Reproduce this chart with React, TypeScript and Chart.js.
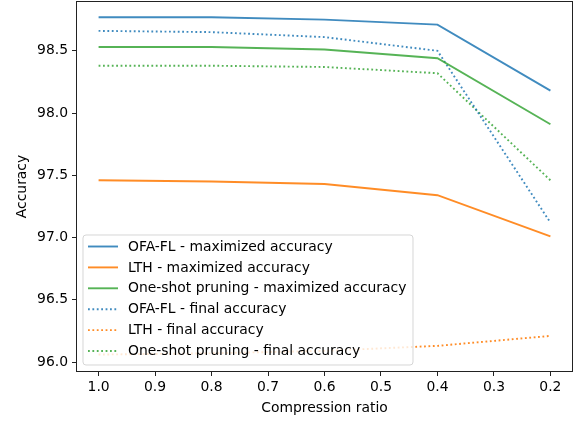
import React, { useEffect, useRef } from "react";
import { Chart, registerables } from "chart.js";

Chart.register(...registerables);

const ratios = [1.0, 0.8, 0.6, 0.4, 0.2];
const ofaMax = [98.77, 98.77, 98.75, 98.71, 98.18];
const lthMax = [97.46, 97.45, 97.43, 97.34, 97.01];
const oneMax = [98.53, 98.53, 98.51, 98.44, 97.91];
const ofaFinal = [98.66, 98.65, 98.61, 98.5, 97.12];
const lthFinal = [96.06, 96.07, 96.09, 96.13, 96.21];
const oneFinal = [98.38, 98.38, 98.37, 98.32, 97.46];

const xTicks = [1.0, 0.9, 0.8, 0.7, 0.6, 0.5, 0.4, 0.3, 0.2];
const yTicks = [96.0, 96.5, 97.0, 97.5, 98.0, 98.5];

const labels = [
  "OFA-FL - maximized accuracy",
  "LTH - maximized accuracy",
  "One-shot pruning - maximized accuracy",
  "OFA-FL - final accuracy",
  "LTH - final accuracy",
  "One-shot pruning - final accuracy",
];

const BLUE = "rgba(31,119,180,0.85)";
const ORANGE = "rgba(255,127,14,0.9)";
const GREEN = "rgba(44,160,44,0.8)";
const colors = [BLUE, ORANGE, GREEN, BLUE, ORANGE, GREEN];
const series = [ofaMax, lthMax, oneMax, ofaFinal, lthFinal, oneFinal];
const DOT = [1.8, 2.6];
const FONT = "DejaVu Sans";
const FS = 13.9;

const legendPlugin = {
  id: "mplLegend",
  afterDatasetsDraw(chart: any) {
    const { ctx, chartArea } = chart;
    ctx.save();
    ctx.strokeStyle = "#222";
    ctx.lineWidth = 1;
    ctx.strokeRect(
      Math.round(chartArea.left) + 0.5,
      Math.round(chartArea.top) + 0.5,
      Math.round(chartArea.right - chartArea.left) - 1,
      Math.round(chartArea.bottom - chartArea.top) - 1
    );
    const lx = chartArea.left + 7;
    const w = 330;
    const h = 130;
    const ly = chartArea.bottom - 7 - h;
    const r = 3;
    ctx.beginPath();
    ctx.moveTo(lx + r, ly);
    ctx.lineTo(lx + w - r, ly);
    ctx.arcTo(lx + w, ly, lx + w, ly + r, r);
    ctx.lineTo(lx + w, ly + h - r);
    ctx.arcTo(lx + w, ly + h, lx + w - r, ly + h, r);
    ctx.lineTo(lx + r, ly + h);
    ctx.arcTo(lx, ly + h, lx, ly + h - r, r);
    ctx.lineTo(lx, ly + r);
    ctx.arcTo(lx, ly, lx + r, ly, r);
    ctx.closePath();
    ctx.fillStyle = "rgba(255,255,255,0.8)";
    ctx.fill();
    ctx.strokeStyle = "rgba(204,204,204,0.8)";
    ctx.lineWidth = 1;
    ctx.stroke();
    ctx.font = `${FS}px "${FONT}"`;
    ctx.textBaseline = "middle";
    ctx.textAlign = "left";
    labels.forEach((lab, i) => {
      const cy = ly + 11.5 + i * 20.9;
      ctx.beginPath();
      ctx.setLineDash(i >= 3 ? DOT : []);
      ctx.strokeStyle = colors[i];
      ctx.lineWidth = 1.9;
      ctx.moveTo(lx + 5, cy);
      ctx.lineTo(lx + 35, cy);
      ctx.stroke();
      ctx.setLineDash([]);
      ctx.fillStyle = "#000";
      ctx.fillText(lab, lx + 45, cy + 0.5);
    });
    ctx.restore();
  },
};

export default function App() {
  const ref = useRef<HTMLCanvasElement | null>(null);
  useEffect(() => {
    document.body.style.margin = "0";
    const datasets = series.map((vals, i) => ({
      label: labels[i],
      data: ratios.map((x, j) => ({ x, y: vals[j] })),
      borderColor: colors[i],
      backgroundColor: colors[i],
      borderWidth: 1.9,
      borderDash: i >= 3 ? DOT : [],
      pointRadius: 0,
      tension: 0,
      fill: false,
    }));
    const tickFont = { family: FONT, size: FS };
    const chart = new Chart(ref.current as HTMLCanvasElement, {
      type: "line",
      data: { datasets },
      plugins: [legendPlugin],
      options: {
        responsive: false,
        animation: false,
        layout: { padding: { top: 1, right: 5, left: 0, bottom: 0 } },
        plugins: { legend: { display: false }, tooltip: { enabled: false } },
        scales: {
          x: {
            type: "linear",
            reverse: true,
            min: 0.16,
            max: 1.04,
            afterBuildTicks: (s: any) => {
              s.ticks = xTicks.map((v) => ({ value: v }));
            },
            afterFit: (s: any) => {
              s.height = 50;
              s.paddingLeft = 0;
              s.paddingRight = 0;
            },
            ticks: {
              font: tickFont,
              color: "#000",
              padding: 2.7,
              maxRotation: 0,
              autoSkip: false,
              callback: (v: any) => Number(v).toFixed(1),
            },
            grid: {
              drawOnChartArea: false,
              drawTicks: true,
              tickLength: 4,
              color: "#222",
            },
            border: { display: false },
            title: {
              display: true,
              text: "Compression ratio",
              font: tickFont,
              color: "#000",
              padding: { top: 0, bottom: 5.7 },
            },
          },
          y: {
            type: "linear",
            min: 95.92,
            max: 98.9,
            afterBuildTicks: (s: any) => {
              s.ticks = yTicks.map((v) => ({ value: v }));
            },
            afterFit: (s: any) => {
              s.width = 76;
              s.paddingTop = 0;
              s.paddingBottom = 0;
            },
            ticks: {
              font: tickFont,
              color: "#000",
              padding: 4,
              autoSkip: false,
              callback: (v: any) => Number(v).toFixed(1),
            },
            grid: {
              drawOnChartArea: false,
              drawTicks: true,
              tickLength: 4,
              color: "#222",
            },
            border: { display: false },
            title: {
              display: true,
              text: "Accuracy",
              font: tickFont,
              color: "#000",
              padding: { top: 13.7, bottom: 0 },
            },
          },
        },
      },
    } as any);
    return () => chart.destroy();
  }, []);
  return (
    <div style={{ width: 578, height: 422 }}>
      <canvas ref={ref} width={578} height={422} style={{ display: "block" }} />
    </div>
  );
}
